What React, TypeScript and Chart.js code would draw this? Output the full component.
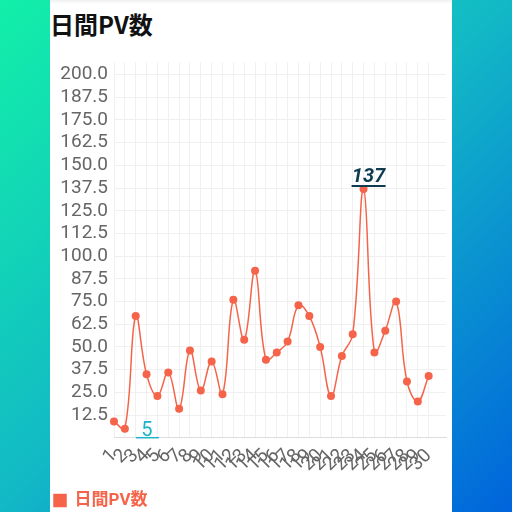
import React, { useEffect, useRef } from 'react';
import { Chart, registerables } from 'chart.js';

Chart.register(...registerables);

const title = '日間PV数';
const days = [1, 2, 3, 4, 5, 6, 7, 8, 9, 10, 11, 12, 13, 14, 15, 16, 17, 18, 19, 20, 21, 22, 23, 24, 25, 26, 27, 28, 29, 30];
const pageViews = [9, 5, 67, 35, 23, 36, 16, 48, 26, 42, 24, 76, 54, 92, 43, 47, 53, 73, 67, 50, 23, 45, 57, 137, 47, 59, 75, 31, 20, 34];
const yTicks = [12.5, 25, 37.5, 50, 62.5, 75, 87.5, 100, 112.5, 125, 137.5, 150, 162.5, 175, 187.5, 200];

const lineColor = '#f5644a';

// labels the highest and lowest day
const extremesPlugin = {
  id: 'extremes',
  afterDatasetsDraw(chart: any) {
    const pts = chart.getDatasetMeta(0).data;
    const maxIdx = pageViews.indexOf(Math.max(...pageViews));
    const minIdx = pageViews.indexOf(Math.min(...pageViews));
    const ctx = chart.ctx;
    ctx.save();

    const hi = pts[maxIdx];
    ctx.font = 'italic bold 20px Roboto, sans-serif';
    ctx.fillStyle = '#0d3b4f';
    ctx.textAlign = 'center';
    ctx.textBaseline = 'alphabetic';
    ctx.fillText(String(pageViews[maxIdx]), hi.x + 5, hi.y - 7);
    ctx.strokeStyle = '#0d3b4f';
    ctx.lineWidth = 2;
    ctx.beginPath();
    ctx.moveTo(hi.x - 12, hi.y - 3);
    ctx.lineTo(hi.x + 22, hi.y - 3);
    ctx.stroke();

    const lo = pts[minIdx];
    ctx.font = '20px Roboto, sans-serif';
    ctx.fillStyle = '#1db3c9';
    ctx.fillText(String(pageViews[minIdx]), lo.x + 22, lo.y + 7);
    ctx.strokeStyle = '#1db3c9';
    ctx.lineWidth = 1.5;
    ctx.beginPath();
    ctx.moveTo(lo.x + 11, lo.y + 9);
    ctx.lineTo(lo.x + 34, lo.y + 9);
    ctx.stroke();
    ctx.restore();
  },
};

const PvChart: React.FC = () => {
  const canvasRef = useRef<HTMLCanvasElement>(null);

  useEffect(() => {
    if (!canvasRef.current) return;
    Chart.defaults.font.family = 'Roboto, "Noto Sans CJK JP", sans-serif';
    Chart.defaults.color = '#666';

    const chart = new Chart(canvasRef.current, {
      type: 'line',
      data: {
        datasets: [{
          label: title,
          data: days.map((d, i) => ({ x: d, y: pageViews[i] })),
          borderColor: lineColor,
          backgroundColor: lineColor,
          borderWidth: 1.5,
          pointRadius: 4,
          pointBackgroundColor: lineColor,
          pointBorderWidth: 0,
          tension: 0.4,
          clip: false,
        }],
      },
      options: {
        animation: false,
        responsive: true,
        maintainAspectRatio: false,
        layout: { padding: { top: 6, left: 2, right: 0, bottom: 0 } },
        scales: {
          x: {
            type: 'linear',
            min: 1,
            max: 31.6,
            afterBuildTicks: (scale: any) => {
              scale.ticks = days.map((d) => ({ value: d }));
            },
            afterFit: (scale: any) => {
              scale.height += 7;
            },
            ticks: {
              font: { size: 19 },
              minRotation: 45,
              maxRotation: 45,
              autoSkip: false,
              padding: 7,
              callback: (v: any) => String(v),
            },
            grid: { color: '#f0f0f0', drawTicks: false },
            border: { color: '#dddddd' },
          },
          y: {
            min: 0,
            max: 206.7,
            afterBuildTicks: (scale: any) => {
              scale.ticks = yTicks.map((v) => ({ value: v }));
            },
            afterFit: (scale: any) => {
              scale.width = 62;
            },
            ticks: {
              font: { size: 19 },
              padding: 6,
              autoSkip: false,
              callback: (v: any) => Number(v).toFixed(1),
            },
            grid: { color: '#f0f0f0', drawTicks: false },
            border: { display: false },
          },
        },
        plugins: {
          legend: {
            position: 'bottom',
            align: 'start',
            labels: {
              color: lineColor,
              boxWidth: 12,
              boxHeight: 12,
              padding: 2,
              font: { size: 17, weight: 'bold' },
            },
          },
          tooltip: { enabled: false },
        },
      },
      plugins: [extremesPlugin],
    });

    return () => {
      chart.destroy();
    };
  }, []);

  return <canvas ref={canvasRef} />;
};

const App: React.FC = () => {
  return (
    <div
      style={{
        position: 'fixed',
        left: 0,
        top: 0,
        width: 512,
        height: 512,
        background: 'linear-gradient(135deg, #12f0a8 0%, #12b8c6 50%, #0064dc 100%)',
        overflow: 'hidden',
      }}
    >
      <div
        style={{
          position: 'absolute',
          left: 50,
          top: 0,
          width: 402,
          height: 512,
          background: 'linear-gradient(#f0f0f0 0px, #ffffff 4px)',
        }}
      >
        <div
          style={{
            position: 'absolute',
            left: 0,
            top: 11,
            fontFamily: '"Noto Sans CJK JP", sans-serif',
            fontWeight: 'bold',
            fontSize: 24,
            lineHeight: '26px',
            color: '#111',
          }}
        >
          {title}
        </div>
        <div style={{ position: 'absolute', left: 0, top: 45, width: 402, height: 474 }}>
          <PvChart />
        </div>
      </div>
    </div>
  );
};

export default App;
